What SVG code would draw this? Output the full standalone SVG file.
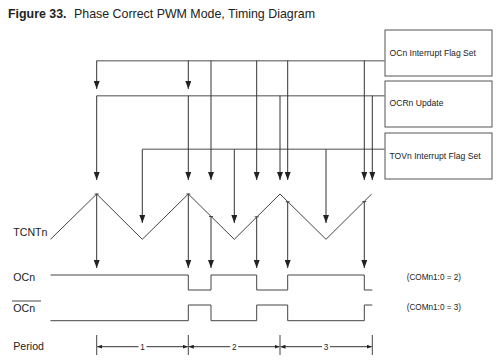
<svg xmlns="http://www.w3.org/2000/svg" width="500" height="360" viewBox="0 0 500 360">
<style>
text{font-family:"Liberation Sans",Arial,sans-serif;fill:#222}
.box{fill:#fff;stroke:#555;stroke-width:1}
.bl{font-size:8.6px}
.bus{fill:none;stroke:#888;stroke-width:1.6}
.v{fill:none;stroke:#333;stroke-width:1;marker-end:url(#ah)}
.w{fill:none;stroke:#444;stroke-width:1}
.tk{stroke:#444;stroke-width:1}
.pa{fill:none;stroke:#333;stroke-width:1;marker-end:url(#sah)}
.lab{font-size:10.6px}
.com{font-size:8.2px}
</style>
<defs>
<marker id="ah" viewBox="0 0 8 6" refX="8" refY="3" markerWidth="8" markerHeight="6" markerUnits="userSpaceOnUse" orient="auto"><path d="M0,0 L8,3 L0,6 z" fill="#222"/></marker>
<marker id="sah" viewBox="0 0 5 4" refX="5" refY="2" markerWidth="5" markerHeight="4" markerUnits="userSpaceOnUse" orient="auto"><path d="M0,0 L5,2 L0,4 z" fill="#222"/></marker>
</defs>
<rect width="500" height="360" fill="#fff"/>
<text x="8" y="18.3" style="font-size:12.4px"><tspan font-weight="bold">Figure 33.</tspan><tspan x="74">Phase Correct PWM Mode, Timing Diagram</tspan></text>

<g id="ocf"><rect class="box" x="385" y="30" width="107" height="46"/><text class="bl" x="389.5" y="55.7">OCn Interrupt Flag Set</text></g>
<g id="ocr"><rect class="box" x="385" y="81" width="107" height="46"/><text class="bl" x="389.5" y="106">OCRn Update</text></g>
<g id="tov"><rect class="box" x="385" y="133" width="107" height="46"/><text class="bl" x="389.5" y="159">TOVn Interrupt Flag Set</text></g>

<g id="connectors">
<path class="bus" d="M96.7,60.7 H385 M96.7,95.7 H385 M142.3,149.3 H385"/>
<path class="v" d="M96.7,60.7 V89"/>
<path class="v" d="M188.3,60.7 V89"/>
<path class="v" d="M211,60.7 V180"/>
<path class="v" d="M256.7,60.7 V180"/>
<path class="v" d="M287.7,60.7 V180"/>
<path class="v" d="M364.3,60.7 V180"/>
<path class="v" d="M96.7,95.7 V180"/>
<path class="v" d="M188.3,95.7 V180"/>
<path class="v" d="M280,95.7 V180"/>
<path class="v" d="M372.3,95.7 V180"/>
<path class="v" d="M142.3,149.3 V223"/>
<path class="v" d="M234.3,149.3 V223"/>
<path class="v" d="M326,149.3 V223"/>
<path class="v" d="M96.7,194 V268"/>
<path class="v" d="M188.3,194 V268"/>
<path class="v" d="M211,216.5 V268"/>
<path class="v" d="M256.7,216.8 V268"/>
<path class="v" d="M287.7,201.8 V268"/>
<path class="v" d="M364.3,201.6 V268"/>
</g>

<g id="tcnt">
<text class="lab" x="13.3" y="236">TCNTn</text>
<polyline class="w" points="50.5,239.3 96.7,194 142.3,239.3 188.3,194 234.3,239.3 280,194 326,239.3 371.7,194"/>
<path class="tk" d="M94.7,194 h4 M186.3,194 h4 M209,216.5 h4 M254.7,216.8 h4 M285.7,201.8 h4 M362.3,201.6 h4"/>
</g>

<g id="ocn">
<text class="lab" x="13.3" y="281">OCn</text>
<polyline class="w" points="50.5,275 188.3,275 188.3,290 211,290 211,275 256.7,275 256.7,290 287.7,290 287.7,275 364.3,275 364.3,290 372.3,290"/>
<text class="com" x="406.7" y="280">(COMn1:0 = 2)</text>
</g>

<g id="ocnbar">
<text class="lab" x="13.3" y="311.7">OCn</text>
<line class="tk" x1="12" y1="301" x2="41" y2="301"/>
<polyline class="w" points="50.5,320.7 188.3,320.7 188.3,305 211,305 211,320.7 256.7,320.7 256.7,305 287.7,305 287.7,320.7 364.3,320.7 364.3,305 372.3,305"/>
<text class="com" x="406.7" y="310">(COMn1:0 = 3)</text>
</g>

<g id="period">
<text class="lab" x="13.3" y="350">Period</text>
<path class="tk" d="M96.7,335 V355 M188.3,335 V355 M280,335 V355 M372.3,335 V355"/>
<path class="pa" d="M138.5,346.7 H97.2"/><path class="pa" d="M146.5,346.7 H187.8"/>
<path class="pa" d="M230.2,346.7 H188.8"/><path class="pa" d="M238.2,346.7 H279.5"/>
<path class="pa" d="M322,346.7 H280.5"/><path class="pa" d="M330,346.7 H371.8"/>
<text class="com" x="142.5" y="349.5" text-anchor="middle">1</text>
<text class="com" x="234.2" y="349.5" text-anchor="middle">2</text>
<text class="com" x="326" y="349.5" text-anchor="middle">3</text>
</g>
</svg>
